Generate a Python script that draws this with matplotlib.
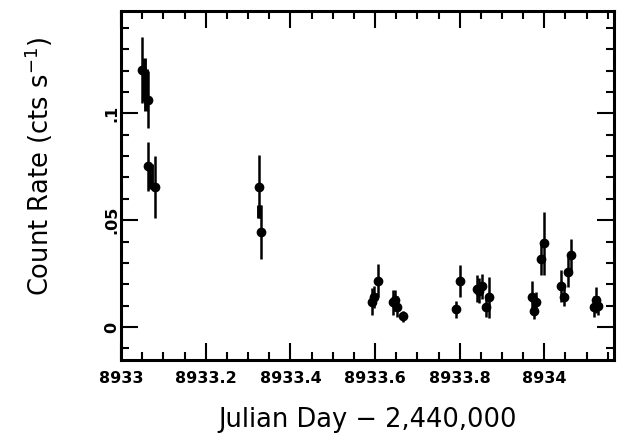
import matplotlib
matplotlib.use("Agg")
import matplotlib.pyplot as plt
from matplotlib.ticker import MultipleLocator, FixedFormatter, FixedLocator

# light curve bins (JD - 2,440,000), count rate and 1-sigma error
jd = [8933.050, 8933.063, 8933.064, 8933.080,
      8933.325, 8933.330,
      8933.592, 8933.597, 8933.607, 8933.642, 8933.648, 8933.652, 8933.666,
      8933.792, 8933.800, 8933.840, 8933.846, 8933.852, 8933.862, 8933.870,
      8933.972, 8933.976, 8933.980, 8933.992, 8934.000,
      8934.039, 8934.046, 8934.055, 8934.063,
      8934.118, 8934.122, 8934.126]
rate = [0.1204, 0.1064, 0.0752, 0.0656,
        0.0656, 0.0445,
        0.0118, 0.0140, 0.0216, 0.0115, 0.0125, 0.0095, 0.0050,
        0.0083, 0.0216, 0.0180, 0.0170, 0.0190, 0.0095, 0.0139,
        0.0142, 0.0075, 0.0115, 0.0316, 0.0391,
        0.0192, 0.0142, 0.0258, 0.0336,
        0.0095, 0.0126, 0.0100]
err = [0.0153, 0.0134, 0.0114, 0.0146,
       0.0148, 0.0125,
       0.0063, 0.0050, 0.0078, 0.0060, 0.0050, 0.0050, 0.0025,
       0.0040, 0.0075, 0.0065, 0.0060, 0.0060, 0.0050, 0.0095,
       0.0075, 0.0040, 0.0050, 0.0075, 0.0148,
       0.0075, 0.0045, 0.0070, 0.0078,
       0.0050, 0.0060, 0.0045]

# short bins drawn as bars only
jd_bar = [8933.054, 8933.058, 8933.071, 8933.327]
rate_bar = [0.1160, 0.1110, 0.0705, 0.0540]
err_bar = [0.0100, 0.0100, 0.0060, 0.0030]

fig = plt.figure(figsize=(6.21, 4.38), dpi=100)
ax = fig.add_axes([0.195, 0.178, 0.794, 0.797])

ax.errorbar(jd_bar, rate_bar, yerr=err_bar, fmt='none', ecolor='black',
            elinewidth=3.5, capsize=0)
ax.errorbar(jd, rate, yerr=err, fmt='o', color='black', ms=6,
            elinewidth=1.8, capsize=0)

ax.set_xlim(8933.0, 8934.165)
ax.set_ylim(-0.0155, 0.148)

ax.xaxis.set_major_locator(FixedLocator([8933, 8933.2, 8933.4, 8933.6, 8933.8, 8934]))
ax.xaxis.set_major_formatter(FixedFormatter(['8933', '8933.2', '8933.4', '8933.6', '8933.8', '8934']))
ax.xaxis.set_minor_locator(MultipleLocator(0.05))
ax.yaxis.set_major_locator(FixedLocator([0, 0.05, 0.1]))
ax.yaxis.set_major_formatter(FixedFormatter(['0', '.05', '.1']))
ax.yaxis.set_minor_locator(MultipleLocator(0.01))

ax.tick_params(which='both', direction='in', top=True, right=True, width=1.5)
ax.tick_params(which='major', length=12)
ax.tick_params(which='minor', length=6)
ax.tick_params(axis='x', labelsize=11.5, pad=8)
ax.tick_params(axis='y', labelsize=11.5, pad=1, labelrotation=90)
for lab in ax.get_xticklabels() + ax.get_yticklabels():
    lab.set_fontweight('bold')
for lab in ax.get_yticklabels():
    lab.set_verticalalignment('center')

for s in ax.spines.values():
    s.set_linewidth(2.2)

ax.set_xlabel("Julian Day \u2212 2,440,000", fontsize=18.5, labelpad=15)
ax.set_ylabel("Count Rate (cts s$^{-1}$)", fontsize=18.5)
ax.yaxis.set_label_coords(-0.134, 0.555)

fig.savefig("out.png", dpi=100)
